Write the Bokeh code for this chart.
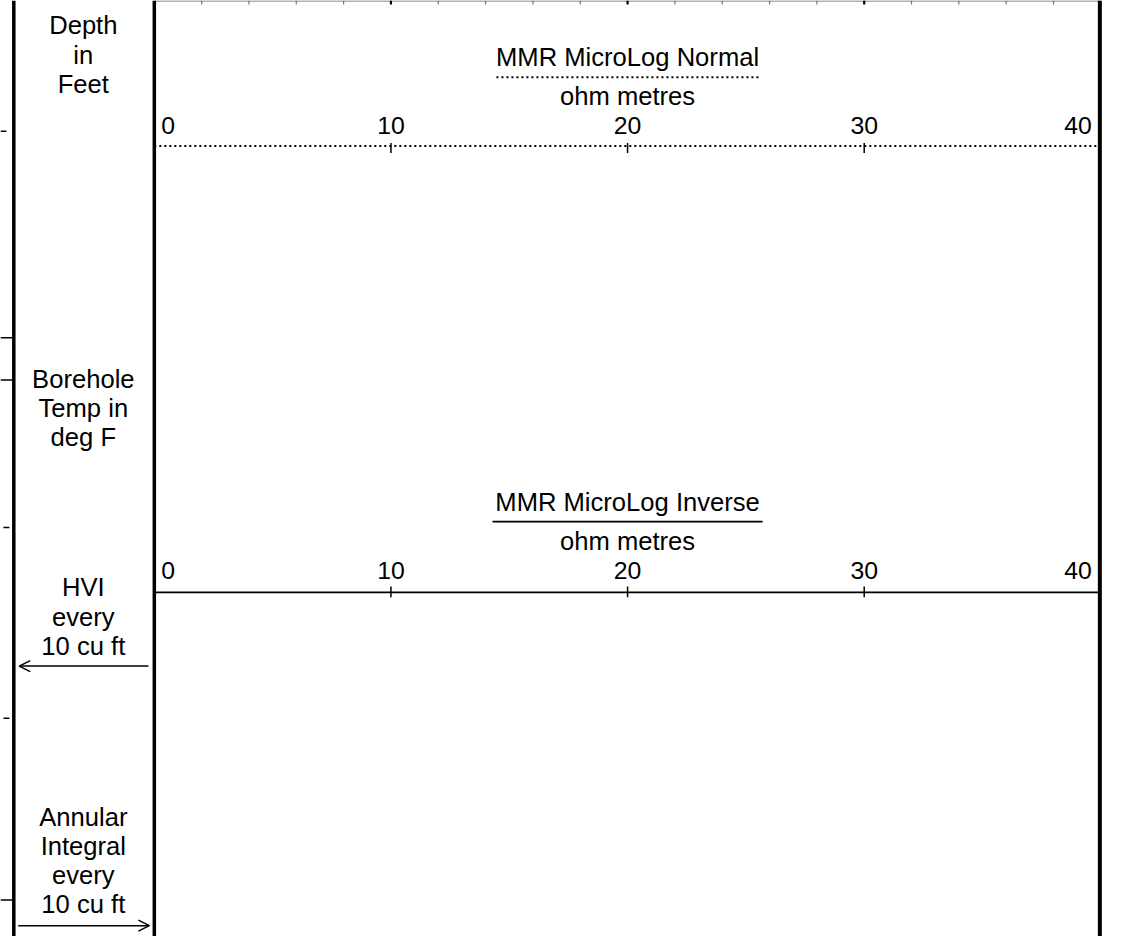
from bokeh.plotting import figure
from bokeh.models import Range1d, ColumnDataSource, Arrow, OpenHead
from bokeh.core.properties import value
from bokeh.embed import file_html
from bokeh.resources import INLINE

# ---------------- data ----------------
scale_min, scale_max = 0, 40
major_ticks = [0, 10, 20, 30, 40]
tick_labels = ["0", "10", "20", "30", "40"]
inner_ticks = [10, 20, 30]
grid_minor = [2, 4, 6, 8, 12, 14, 16, 18, 22, 24, 26, 28, 32, 34, 36, 38]
grid_major = [10, 20, 30]
curve_names = ["MMR MicroLog Normal", "MMR MicroLog Inverse"]
curve_units = ["ohm metres", "ohm metres"]
depth_header = ["Depth", "in", "Feet"]
temp_header = ["Borehole", "Temp in", "deg F"]
hvi_header = ["HVI", "every", "10 cu ft"]
annular_header = ["Annular", "Integral", "every", "10 cu ft"]

# ---------------- layout (reference pixels) ----------------
W, H = 1124, 936
REF_W, REF_H = 1140, 952
PX_PER_UNIT = 24
TRACK_LEFT = 156
FONT = "Liberation Sans"
WORD_SIZE = "25.6px"
DIGIT_SIZE = "24.8px"
BASE_FIX = -10  # alphabetic baseline correction

curve_style = [
    dict(dash="2 3", lw=2, title_y=67, under_y=78, under_half=133,
         unit_y=107, label_y=137, line_y=148, tick_up=3, tick_dn=7),
    dict(dash="solid", lw=1.6, title_y=520, under_y=530, under_half=137,
         unit_y=560, label_y=590, line_y=602, tick_up=6, tick_dn=5),
]

p = figure(width=W, height=H,
           x_range=Range1d((0 - TRACK_LEFT) / PX_PER_UNIT,
                           (REF_W - TRACK_LEFT) / PX_PER_UNIT),
           y_range=Range1d(REF_H, 0),
           output_backend="svg", toolbar_location=None, min_border=0,
           x_axis_location=None, y_axis_location=None)
p.extra_x_ranges = {"px": Range1d(0, REF_W)}
p.grid.visible = False
p.outline_line_color = None
p.background_fill_color = "white"
p.border_fill_color = "white"

# top depth-grid edge with ticks
p.line(x=[scale_min, scale_max], y=[0.5, 0.5], line_color="#999999", line_width=1.5)
p.segment(x0=grid_minor, x1=grid_minor, y0=[0] * len(grid_minor),
          y1=[4] * len(grid_minor), line_color="#777777", line_width=1.2)
p.segment(x0=grid_major, x1=grid_major, y0=[0] * len(grid_major),
          y1=[4] * len(grid_major), line_color="black", line_width=2.2)

# column borders
p.segment(x0=[13.5, 156, 1115], y0=[0, 0, 0], x1=[13.5, 156, 1115],
          y1=[960, 960, 960], x_range_name="px", line_color="black",
          line_width=[3.5, 3.5, 4])
# fragments of the neighbouring column
p.segment(x0=[0, 0, 0], y0=[343, 386, 915], x1=[13, 13, 13], y1=[343, 386, 915],
          x_range_name="px", line_color="black", line_width=1.5)
p.segment(x0=[0, 3, 3], y0=[133, 536, 730], x1=[6, 9, 9], y1=[133, 536, 730],
          x_range_name="px", line_color="black", line_width=1.5)

# left header column
def header(lines, first, step):
    ys = [first + BASE_FIX + i * step for i in range(len(lines))]
    p.text(x=[84] * len(lines), y=ys, text=lines, x_range_name="px",
           text_align="center", text_baseline="alphabetic",
           text_font=value(FONT), text_font_size=value(WORD_SIZE),
           text_color="black")

header(depth_header, 35, 30)
header(temp_header, 395, 29.5)
header(hvi_header, 607, 30)
header(annular_header, 840, 29.5)

# arrows
p.add_layout(Arrow(end=OpenHead(size=11, line_width=1.5, line_color="black"),
                   x_start=150, y_start=677, x_end=19, y_end=677,
                   x_range_name="px", line_width=1.5, line_color="black"))
p.add_layout(Arrow(end=OpenHead(size=11, line_width=1.5, line_color="black"),
                   x_start=18, y_start=941, x_end=151, y_end=941,
                   x_range_name="px", line_width=1.5, line_color="black"))

# curve scales
label_align = ["left", "center", "center", "center", "right"]
label_offset = [7, 0, 0, 0, -9]
mid = (scale_min + scale_max) / 2
for name, unit, st in zip(curve_names, curve_units, curve_style):
    p.text(x=[mid], y=[st["title_y"] + BASE_FIX], text=[name], text_align="center",
           text_baseline="alphabetic", text_font=value(FONT),
           text_font_size=value(WORD_SIZE), text_color="black")
    c_px = TRACK_LEFT + mid * PX_PER_UNIT
    p.line(x=[c_px - st["under_half"], c_px + st["under_half"]],
           y=[st["under_y"], st["under_y"]], x_range_name="px",
           line_color="black", line_width=st["lw"], line_dash=st["dash"])
    p.text(x=[mid], y=[st["unit_y"] + BASE_FIX], text=[unit], text_align="center",
           text_baseline="alphabetic", text_font=value(FONT),
           text_font_size=value(WORD_SIZE), text_color="black")
    src = ColumnDataSource(dict(x=major_ticks,
                                y=[st["label_y"] + BASE_FIX] * len(major_ticks),
                                t=tick_labels, a=label_align, o=label_offset))
    p.text(x="x", y="y", text="t", text_align="a", x_offset="o", source=src,
           text_baseline="alphabetic", text_font=value(FONT),
           text_font_size=value(DIGIT_SIZE), text_color="black")
    p.line(x=[scale_min, scale_max], y=[st["line_y"]] * 2, line_color="black",
           line_width=st["lw"], line_dash=st["dash"])
    p.segment(x0=inner_ticks, x1=inner_ticks,
              y0=[st["line_y"] - st["tick_up"]] * len(inner_ticks),
              y1=[st["line_y"] + st["tick_dn"]] * len(inner_ticks),
              line_color="black", line_width=1.5)

open("out.html", "w").write(file_html(p, INLINE))
